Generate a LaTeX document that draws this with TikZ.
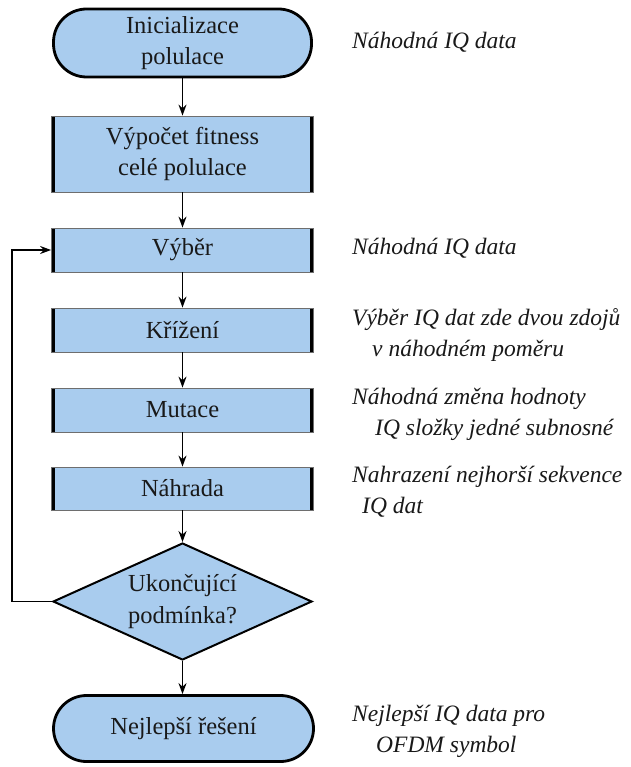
\documentclass[tikz,border=0pt]{standalone}
\usepackage{fontspec}
\setmainfont{Liberation Serif}
\usetikzlibrary{shapes.geometric,arrows.meta}
\definecolor{boxblue}{RGB}{169,204,238}
\definecolor{edgegray}{RGB}{110,110,110}
\begin{document}
\begin{tikzpicture}[x=1pt,y=-1pt,
  maintext/.style={font=\fontsize{24.5}{31.5}\selectfont, align=center, text=black!90},
  notetext/.style={font=\fontsize{23.5}{31}\selectfont\itshape, anchor=base west, inner sep=0pt, text=black!90},
  terminal/.style={maintext, fill=boxblue, draw=black, line width=2.8pt, minimum width=258pt, rounded corners=33pt, inner sep=0pt},
  procbox/.style={maintext, fill=boxblue, draw=edgegray, line width=0.8pt, minimum width=262pt, inner sep=0pt,
    path picture={\draw[line width=6.6pt,black] (path picture bounding box.north west) -- (path picture bounding box.south west);
                  \draw[line width=6.6pt,black] (path picture bounding box.north east) -- (path picture bounding box.south east);}},
  decision/.style={diamond, fill=boxblue, draw=black, line width=2pt, minimum width=259pt, minimum height=117pt, inner sep=0pt},
  arr/.style={draw=black, line width=1.6pt, -{Stealth[length=11pt,width=8pt]}}
]
\useasboundingbox (0,0) rectangle (630,767);

\node[terminal, minimum height=68pt] (start) at (182.5,43) {Inicializace\\polulace};
\node[procbox, minimum height=76pt] (fit) at (182.5,154) {Výpočet fitness\\celé polulace};
\node[procbox, minimum height=44pt] (vyb) at (182.5,250) {Výběr};
\node[procbox, minimum height=44pt] (kriz) at (182.5,330) {Křížení};
\node[procbox, minimum height=44pt] (mut) at (182.5,410) {Mutace};
\node[procbox, minimum height=43pt] (nah) at (182.5,488.5) {Náhrada};
\node[decision] (dec) at (182.5,601.5) {};
\node[maintext] (dectext) at (dec.center) {Ukončující\\podmínka?};
\node[terminal, minimum height=66pt, minimum width=260pt] (end) at (183.5,728.5) {Nejlepší řešení};

\draw[arr] (start) -- (fit);
\draw[arr] (fit) -- (vyb);
\draw[arr] (vyb) -- (kriz);
\draw[arr] (kriz) -- (mut);
\draw[arr] (mut) -- (nah);
\draw[arr] (nah) -- (dec);
\draw[arr] (dec.south) -- (dec.south |- end.north);
\draw[arr] (dec.west) -- ([xshift=-40pt]dec.west) |- (vyb.west);

\node[notetext] (n1) at (352,49) {Náhodná IQ data};
\node[notetext] (n2) at (352,254) {Náhodná IQ data};
\node[notetext] (n3a) at (352,325) {Výběr IQ dat zde dvou zdojů};
\node[notetext] (n3b) at (372,356) {v náhodném poměru};
\node[notetext] (n4a) at (352,404) {Náhodná změna hodnoty};
\node[notetext] (n4b) at (375,435) {IQ složky jedné subnosné};
\node[notetext] (n5a) at (352,482) {Nahrazení nejhorší sekvence};
\node[notetext] (n5b) at (362,513) {IQ dat};
\node[notetext] (n6a) at (352,721) {Nejlepší IQ data pro};
\node[notetext] (n6b) at (376,752) {OFDM symbol};
\end{tikzpicture}
\end{document}
